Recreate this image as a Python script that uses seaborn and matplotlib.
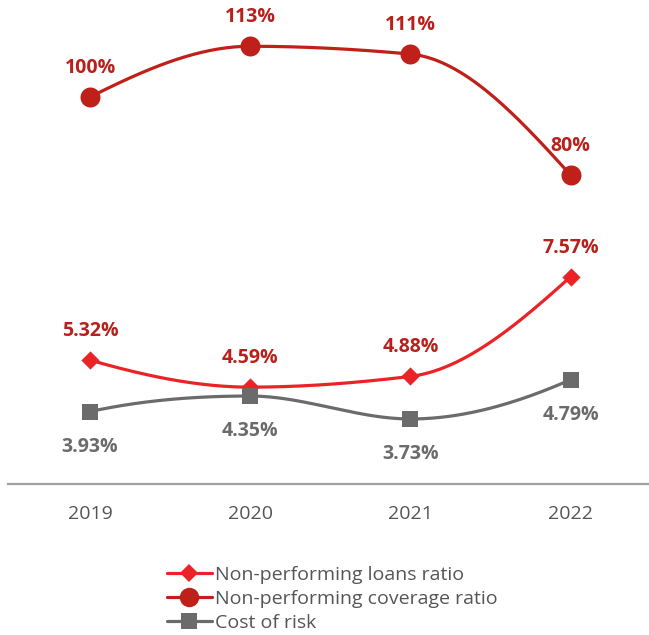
import numpy as np
import pandas as pd
import matplotlib
matplotlib.use("Agg")
import matplotlib.pyplot as plt
import seaborn as sns
from matplotlib.lines import Line2D

# ---- data ----
years = ["2019", "2020", "2021", "2022"]
npl_ratio = [5.32, 4.59, 4.88, 7.57]
coverage_ratio = [100, 113, 111, 80]
cost_of_risk = [3.93, 4.35, 3.73, 4.79]
npl_labels = ["5.32%", "4.59%", "4.88%", "7.57%"]
coverage_labels = ["100%", "113%", "111%", "80%"]
cor_labels = ["3.93%", "4.35%", "3.73%", "4.79%"]
series_names = ["Non-performing loans ratio", "Non-performing coverage ratio", "Cost of risk"]

# ---- style ----
sns.set_style("white")
plt.rcParams["font.family"] = ["Open Sans", "DejaVu Sans"]

C_NPL = "#EC2326"
C_COV = "#C0201A"
C_COR = "#6B6B6B"
C_LBL_RED = "#B8201B"
C_TXT = "#555555"
LW = 2.3


def smooth(yvals, n=60):
    """Monotone (PCHIP-style) cubic drawing of the line through the data points."""
    y = np.array(yvals, dtype=float)
    x = np.arange(len(y), dtype=float)
    d = np.diff(y)
    m = np.zeros_like(y)
    for k in range(1, len(y) - 1):
        if d[k - 1] * d[k] > 0:
            m[k] = 2.0 / (1.0 / d[k - 1] + 1.0 / d[k])
        else:
            m[k] = 0.0

    def end_slope(d0, d1):
        s = (3 * d0 - d1) / 2.0
        if np.sign(s) != np.sign(d0):
            s = 0.0
        elif np.sign(d0) != np.sign(d1) and abs(s) > abs(3 * d0):
            s = 3 * d0
        return s
    m[0] = end_slope(d[0], d[1])
    m[-1] = end_slope(d[-1], d[-2])
    xs, ys = [], []
    for k in range(len(y) - 1):
        t = np.linspace(0, 1, n)
        h00 = 2 * t ** 3 - 3 * t ** 2 + 1
        h10 = t ** 3 - 2 * t ** 2 + t
        h01 = -2 * t ** 3 + 3 * t ** 2
        h11 = t ** 3 - t ** 2
        xs.extend(x[k] + t)
        ys.extend(h00 * y[k] + h10 * m[k] + h01 * y[k + 1] + h11 * m[k + 1])
    return np.array(xs), np.array(ys)


W, H = 649, 635
fig = plt.figure(figsize=(W / 100, H / 100), dpi=100)
ax = fig.add_axes([8 / W, (H - 484) / H, (W - 8) / W, (484 - 10) / H])
ax2 = ax.twinx()

xpos = np.arange(len(years))

# NPL ratio and cost of risk on primary axis
for vals, col, mk, ms in [(npl_ratio, C_NPL, "D", 9.3), (cost_of_risk, C_COR, "s", 12)]:
    sx, sy = smooth(vals)
    sns.lineplot(x=sx, y=sy, ax=ax, color=col, lw=LW, sort=False, estimator=None)
    sns.scatterplot(x=xpos, y=vals, ax=ax, color=col, marker=mk, s=ms ** 2, linewidth=0, zorder=5)

# coverage on secondary axis
sx, sy = smooth(coverage_ratio)
sns.lineplot(x=sx, y=sy, ax=ax2, color=C_COV, lw=LW, sort=False, estimator=None)
sns.scatterplot(x=xpos, y=coverage_ratio, ax=ax2, color=C_COV, marker="o", s=14.4 ** 2, linewidth=0, zorder=5)

# data labels
for i in range(len(years)):
    ax.annotate(npl_labels[i], (xpos[i], npl_ratio[i]), xytext=(0, 21), textcoords="offset points",
                ha="center", va="center", fontsize=14, fontweight="bold", color=C_LBL_RED)
    ax.annotate(cor_labels[i], (xpos[i], cost_of_risk[i]), xytext=(0, -25.5), textcoords="offset points",
                ha="center", va="center", fontsize=14, fontweight="bold", color=C_COR)
    ax2.annotate(coverage_labels[i], (xpos[i], coverage_ratio[i]), xytext=(0, 21), textcoords="offset points",
                 ha="center", va="center", fontsize=14, fontweight="bold", color=C_LBL_RED)

ax.set_xlim(-0.5125, 3.49)
ax.set_ylim(1.973, 14.78)
ax2.set_ylim(0.77, 122.3)

ax.set_xticks(xpos)
ax.set_xticklabels(years, fontsize=14, color=C_TXT)
ax.tick_params(axis="x", length=0, pad=15)
ax.set_yticks([])
ax2.set_yticks([])
ax.set_xlabel("")
ax.set_ylabel("")
ax2.set_ylabel("")
for a in (ax, ax2):
    for s in ["top", "left", "right"]:
        a.spines[s].set_visible(False)
ax2.spines["bottom"].set_visible(False)
ax.spines["bottom"].set_color("#A0A0A0")
ax.spines["bottom"].set_linewidth(1.6)

handles = [
    Line2D([], [], color=C_NPL, lw=LW, marker="D", markersize=9.3, markeredgewidth=0),
    Line2D([], [], color=C_COV, lw=LW, marker="o", markersize=14, markeredgewidth=0),
    Line2D([], [], color=C_COR, lw=LW, marker="s", markersize=11, markeredgewidth=0),
]
fig.legend(handles, series_names, loc="upper left", bbox_to_anchor=(167 / W, 1 - 566 / H),
           frameon=False, fontsize=14, labelcolor=C_TXT, handlelength=2.3, handletextpad=0.15,
           labelspacing=0.3, borderpad=0, borderaxespad=0)

fig.savefig("out.png", dpi=100)
